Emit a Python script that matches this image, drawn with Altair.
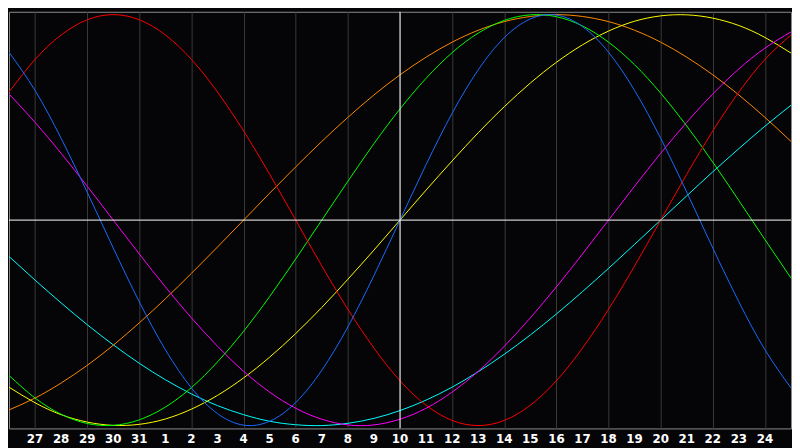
import altair as alt
import pandas as pd

# day positions (index 0 = the 27th of the previous month)
day_index = list(range(-1, 30))
label_index = list(range(0, 29))
day_labels = ["27", "28", "29", "30", "31", "1", "2", "3", "4", "5", "6", "7",
              "8", "9", "10", "11", "12", "13", "14", "15", "16", "17", "18",
              "19", "20", "21", "22", "23", "24"]
today_index = 14

# series values (one value per day, -1 .. 1)
physical = [0.817, 0.631, 0.398, 0.136, -0.136, -0.398, -0.631, -0.817, -0.942, -0.998,
            -0.979, -0.888, -0.731, -0.520, -0.270, 0.0, 0.270, 0.520, 0.731, 0.888,
            0.979, 0.998, 0.942, 0.817, 0.631, 0.398, 0.136, -0.136, -0.398, -0.631, -0.817]
emotional = [0.623, 0.782, 0.901, 0.975, 1.0, 0.975, 0.901, 0.782, 0.623, 0.434,
             0.223, 0.0, -0.223, -0.434, -0.623, -0.782, -0.901, -0.975, -1.0, -0.975,
             -0.901, -0.782, -0.623, -0.434, -0.223, 0.0, 0.223, 0.434, 0.623, 0.782, 0.901]
intellectual = [-0.756, -0.866, -0.945, -0.990, -0.999, -0.972, -0.910, -0.815, -0.690, -0.541,
                -0.372, -0.189, 0.0, 0.189, 0.372, 0.541, 0.690, 0.815, 0.910, 0.972,
                0.999, 0.990, 0.945, 0.866, 0.756, 0.618, 0.458, 0.282, 0.095, -0.095, -0.282]
intuitive = [0.614, 0.476, 0.325, 0.165, 0.0, -0.165, -0.325, -0.476, -0.614, -0.736,
             -0.837, -0.916, -0.969, -0.997, -0.997, -0.969, -0.916, -0.837, -0.736, -0.614,
             -0.476, -0.325, -0.165, 0.0, 0.165, 0.325, 0.476, 0.614, 0.736, 0.837, 0.916]
aesthetic = [-0.813, -0.889, -0.947, -0.983, -0.999, -0.994, -0.968, -0.920, -0.853, -0.768,
             -0.667, -0.552, -0.425, -0.288, -0.146, 0.0, 0.146, 0.288, 0.425, 0.552,
             0.667, 0.768, 0.853, 0.920, 0.968, 0.994, 0.999, 0.983, 0.947, 0.889, 0.813]
awareness = [-0.924, -0.866, -0.793, -0.707, -0.609, -0.5, -0.383, -0.259, -0.131, 0.0,
             0.131, 0.259, 0.383, 0.5, 0.609, 0.707, 0.793, 0.866, 0.924, 0.966,
             0.991, 1.0, 0.991, 0.966, 0.924, 0.866, 0.793, 0.707, 0.609, 0.5, 0.383]
spiritual = [-0.177, -0.292, -0.403, -0.509, -0.607, -0.697, -0.777, -0.846, -0.903, -0.947,
             -0.979, -0.996, -1.0, -0.989, -0.965, -0.927, -0.876, -0.813, -0.738, -0.653,
             -0.559, -0.457, -0.348, -0.235, -0.118, 0.0, 0.118, 0.235, 0.348, 0.457, 0.559]

series_names = ["spiritual", "awareness", "aesthetic", "intuitive",
                "intellectual", "emotional", "physical"]
series_values = [spiritual, awareness, aesthetic, intuitive,
                 intellectual, emotional, physical]
series_colors = ["#00ffff", "#ff8a00", "#ffff00", "#ff00ff",
                 "#00ff00", "#ff0000", "#1a6cff"]

rows = []
for name, vals in zip(series_names, series_values):
    for d, v in zip(day_index, vals):
        rows.append({"day": d, "value": v, "series": name})
df = pd.DataFrame(rows)
labels_df = pd.DataFrame({"day": label_index, "label": day_labels})

W, H = 792, 422
xs = alt.Scale(domain=[-1, 29], nice=False, zero=False)
ys = alt.Scale(domain=[-1.014, 1.014], nice=False, zero=False)

lines = alt.Chart(df).mark_line(strokeWidth=1, interpolate="natural", clip=True).encode(
    x=alt.X("day:Q", scale=xs,
            axis=alt.Axis(values=label_index, grid=True, gridColor="#3a3a3a",
                          gridWidth=1, labels=False, ticks=False, domain=False,
                          title=None)),
    y=alt.Y("value:Q", scale=ys, axis=None),
    color=alt.Color("series:N", scale=alt.Scale(domain=series_names, range=series_colors),
                    legend=None),
)

hrule = alt.Chart(pd.DataFrame({"value": [0]})).mark_rule(color="#ffffff", strokeWidth=1).encode(
    y=alt.Y("value:Q", scale=ys, axis=None)
)
vrule = alt.Chart(pd.DataFrame({"day": [today_index]})).mark_rule(color="#ffffff", strokeWidth=1).encode(
    x=alt.X("day:Q", scale=xs)
)

labels = alt.Chart(labels_df).mark_text(
    color="#ffffff", fontWeight="bold", fontSize=12, font="DejaVu Sans",
    align="center", baseline="middle"
).encode(
    x=alt.X("day:Q", scale=xs),
    y=alt.value(H + 11),
    text="label:N",
)

chart = alt.layer(lines, hrule, vrule, labels).properties(
    width=W, height=H, padding=0, background="#050508"
).configure_view(
    stroke="#8c8c8c", strokeWidth=1, fill="#050508"
)

chart.save("out.html", embed_options={"renderer": "svg", "actions": False})
